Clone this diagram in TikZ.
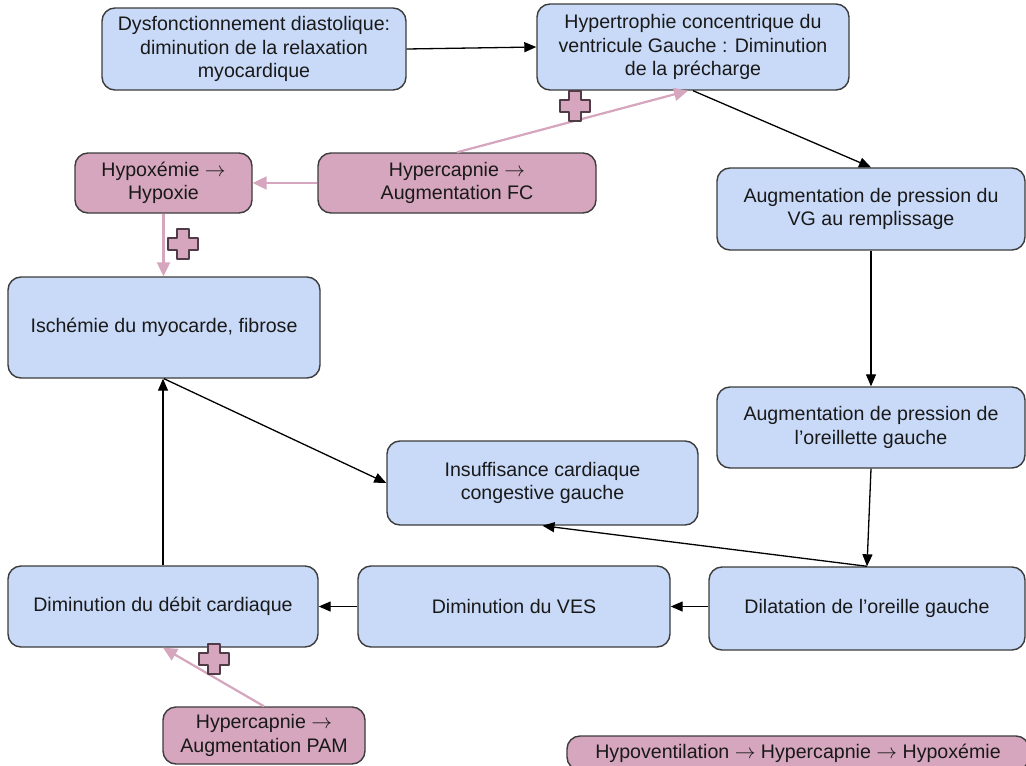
\documentclass[tikz,border=0pt]{standalone}
\usepackage{fontspec}
\setmainfont{Liberation Sans}
\usepackage{tikz}
\usetikzlibrary{arrows.meta, positioning, calc}
\definecolor{myblue}{RGB}{201,218,248}
\definecolor{mypink}{RGB}{213,166,189}
\definecolor{mydark}{RGB}{60,60,60}
\definecolor{mytext}{RGB}{25,25,25}
\definecolor{plusedge}{RGB}{80,60,70}
\newcommand{\rarr}{\ensuremath{\rightarrow}}
\tikzset{
  block/.style={rectangle, draw=mydark, fill=myblue, align=center,
    inner sep=0pt, rounded corners=13pt, line width=1.4pt,
    text=mytext, font=\fontsize{19.6}{23.5}\selectfont},
  pinkblock/.style={block, fill=mypink},
  arrow/.style={-{Triangle[length=12pt,width=10pt]}, line width=1.3pt, color=black},
  pinkarrow/.style={-{Triangle[length=14pt,width=13pt]}, line width=2.2pt, color=mypink},
  plusmark/.style={fill=mypink, draw=plusedge, line width=1.5pt, line join=round}
}

\begin{document}
\begin{tikzpicture}[x=1pt, y=-1pt]
  \fill[white] (0,0) rectangle (1026,766);
  \useasboundingbox (0,0) rectangle (1026,766);

  % ── Top row ──────────────────────────────────────────────────────────────
  \node[block, minimum width=304pt, minimum height=82pt] (dysf) at (254,49)
    {Dysfonctionnement diastolique:\\ diminution de la relaxation\\ myocardique};
  \node[block, minimum width=312pt, minimum height=86pt] (hypert) at (693,47)
    {Hypertrophie concentrique du\\ ventricule Gauche : Diminution\\ de la précharge};

  % ── Pink factor boxes ────────────────────────────────────────────────────
  \node[pinkblock, minimum width=177pt, minimum height=60pt] (hypox) at (163.5,183)
    {Hypoxémie \rarr\\ Hypoxie};
  \node[pinkblock, minimum width=278pt, minimum height=60pt] (hcfc) at (457,183)
    {Hypercapnie \rarr\\ Augmentation FC};
  \node[pinkblock, minimum width=202pt, minimum height=57pt] (hcpam) at (264,735.5)
    {Hypercapnie \rarr\\ Augmentation PAM};
  \node[pinkblock, minimum width=462pt, minimum height=34pt] (hypov) at (798,753)
    {Hypoventilation \rarr{} Hypercapnie \rarr{} Hypoxémie};

  % ── Right column ─────────────────────────────────────────────────────────
  \node[block, minimum width=308pt, minimum height=82pt] (vg) at (871,209)
    {Augmentation de pression du\\ VG au remplissage};
  \node[block, minimum width=308pt, minimum height=81pt] (oreil) at (871,427.5)
    {Augmentation de pression de\\ l’oreillette gauche};
  \node[block, minimum width=316pt, minimum height=83pt] (dilat) at (867,608.5)
    {Dilatation de l’oreille gauche};

  % ── Middle and left ──────────────────────────────────────────────────────
  \node[block, minimum width=312pt, minimum height=101pt] (isch) at (164,327.5)
    {Ischémie du myocarde, fibrose};
  \node[block, minimum width=311pt, minimum height=84pt] (insuf) at (542.5,483)
    {Insuffisance cardiaque\\ congestive gauche};
  \node[block, minimum width=310pt, minimum height=81pt] (debit) at (163,606.5)
    {Diminution du débit cardiaque};
  \node[block, minimum width=312pt, minimum height=81pt] (ves) at (514,606.5)
    {Diminution du VES};

  % ── Causal chain ─────────────────────────────────────────────────────────
  \draw[arrow] (dysf.east) -- (hypert.west);
  \draw[arrow] (hypert.south) -- (vg.north);
  \draw[arrow] (vg.south) -- (oreil.north);
  \draw[arrow] (oreil.south) -- (dilat.north);
  \draw[arrow] (dilat.north) -- (insuf.south);
  \draw[arrow] (ves.east -| dilat.west) -- (ves.east);
  \draw[arrow] (ves.west) -- (debit.east);
  \draw[arrow] (debit.north) -- (debit.north |- isch.south);
  \draw[arrow] (isch.south) -- (insuf.west);

  % ── Aggravating factors ──────────────────────────────────────────────────
  \draw[pinkarrow] (hcfc.north) -- ([xshift=-5pt]hypert.south);
  \draw[pinkarrow] (hcfc.west) -- (hypox.east);
  \draw[pinkarrow] (hypox.south) -- (hypox.south |- isch.north);
  \draw[pinkarrow] (hcpam.north) -- (debit.south);

  % ── Plus signs ───────────────────────────────────────────────────────────
  \foreach \px/\py in {575/106, 183/244, 214/659} {
    \draw[plusmark] (\px,\py) ++(-6,-15) -- ++(12,0) -- ++(0,9) -- ++(9,0)
      -- ++(0,12) -- ++(-9,0) -- ++(0,9) -- ++(-12,0) -- ++(0,-9) -- ++(-9,0)
      -- ++(0,-12) -- ++(9,0) -- cycle;
  }
\end{tikzpicture}
\end{document}
